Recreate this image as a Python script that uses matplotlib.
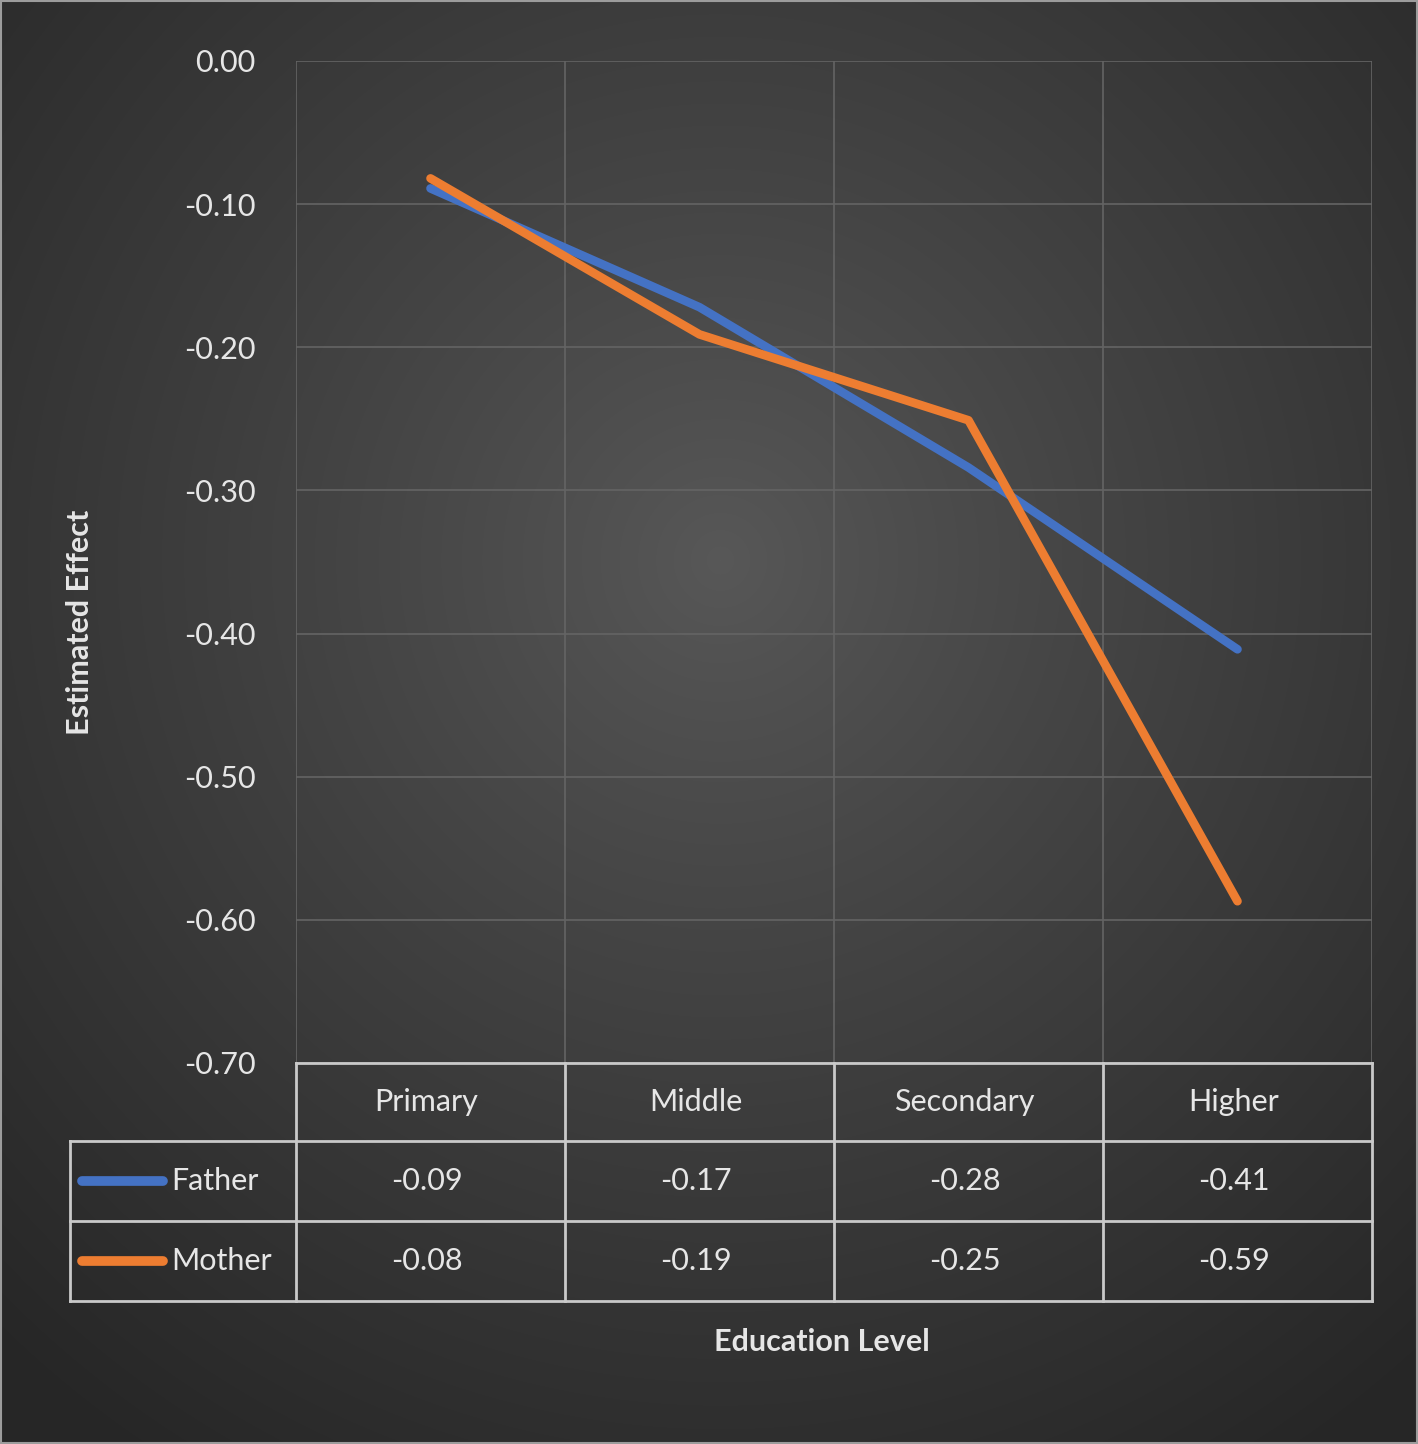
import numpy as np
import matplotlib
matplotlib.use("Agg")
import matplotlib.pyplot as plt
from matplotlib.transforms import blended_transform_factory, offset_copy
from matplotlib.lines import Line2D

categories = ["Primary", "Middle", "Secondary", "Higher"]
father = [-0.089, -0.172, -0.284, -0.411]
mother = [-0.082, -0.191, -0.251, -0.587]
series_names = ["Father", "Mother"]
yticks = [0.0, -0.1, -0.2, -0.3, -0.4, -0.5, -0.6, -0.7]

BLUE = "#4472c4"
ORANGE = "#ed7d31"
TXT = "#e6e6e6"
FONT = "Lato"

W, H = 1418, 1444
fig = plt.figure(figsize=(W / 100, H / 100), dpi=100)

# background radial gradient
bg = fig.add_axes([0, 0, 1, 1])
yy, xx = np.mgrid[0:H, 0:W]
cx, cy = 720, 560
r = np.sqrt(((xx - cx) / W) ** 2 + ((yy - cy) / H) ** 2)
r = np.clip(r / 0.75, 0, 1)
c_in, c_out = 0x58 / 255, 0x26 / 255
val = c_in + (c_out - c_in) * r ** 0.9
img = np.dstack([val, val, val])
bg.imshow(img, extent=[0, W, H, 0], aspect="auto", interpolation="bilinear")
bg.set_xlim(0, W)
bg.set_ylim(H, 0)
bg.axis("off")
bg.add_patch(plt.Rectangle((1, 1), W - 2, H - 2, fill=False, ec="#9c9c9c", lw=1.5))

# main axes: plot area x 296..1372, y 61..1063 (pixels from top)
L, R, T, B = 296, 1372, 61, 1063
ax = fig.add_axes([L / W, 1 - B / H, (R - L) / W, (B - T) / H])
ax.set_facecolor("none")
x = np.arange(len(categories))
ax.set_xlim(-0.5, len(categories) - 0.5)
ax.set_ylim(-0.7, 0.0)
fs = 22
ax.set_yticks(yticks)
ax.set_yticklabels([f"{v:.2f}" for v in yticks], fontsize=fs, color=TXT, fontfamily=FONT)
ax.tick_params(axis="y", length=0, pad=29)
ax.set_xticks([])
for s in ax.spines.values():
    s.set_visible(False)
grid_c = "#646464"
for v in yticks:
    ax.axhline(v, color=grid_c, lw=1.2, zorder=1)
for b in np.arange(-0.5, len(categories), 1.0):
    ax.axvline(b, color=grid_c, lw=1.2, zorder=1)

ax.plot(x, father, color=BLUE, lw=6.2, solid_capstyle="round", solid_joinstyle="round", zorder=3)
ax.plot(x, mother, color=ORANGE, lw=6.2, solid_capstyle="round", solid_joinstyle="round", zorder=4)

# data table
tr = blended_transform_factory(ax.transData, ax.transAxes)
tr_txt = offset_copy(tr, fig=fig, x=-4, y=0, units="dots")
def ya(py):
    return (B - py) / (B - T)
def xd(px):
    return (px - L) / ((R - L) / len(categories)) - 0.5

row_edges = [1063, 1141, 1221, 1301]
tcol = "#c9c9c9"
tlw = 2.0
left_x = xd(70)
ax.add_line(Line2D([-0.5, 3.5], [ya(1063)] * 2, transform=tr, color=tcol, lw=tlw, clip_on=False))
for py in row_edges[1:]:
    ax.add_line(Line2D([left_x, 3.5], [ya(py)] * 2, transform=tr, color=tcol, lw=tlw, clip_on=False))
for b in np.arange(-0.5, len(categories), 1.0):
    ax.add_line(Line2D([b, b], [ya(1063), ya(1301)], transform=tr, color=tcol, lw=tlw, clip_on=False))
ax.add_line(Line2D([left_x, left_x], [ya(1141), ya(1301)], transform=tr, color=tcol, lw=tlw, clip_on=False))

for i, c in enumerate(categories):
    ax.text(i, ya(1102), c, transform=tr_txt, ha="center", va="center", fontsize=fs,
            color=TXT, fontfamily=FONT, clip_on=False)
for j, (name, vals, col) in enumerate(zip(series_names, [father, mother], [BLUE, ORANGE])):
    yc = ya((row_edges[j + 1] + row_edges[j + 2]) / 2)
    for i, v in enumerate(vals):
        ax.text(i, yc, f"{v:.2f}", transform=tr_txt, ha="center", va="center", fontsize=fs,
                color=TXT, fontfamily=FONT, clip_on=False)
    ax.add_line(Line2D([xd(82), xd(163)], [yc, yc], transform=tr, color=col, lw=7,
                       solid_capstyle="round", clip_on=False))
    ax.text(xd(171), yc, name, transform=tr, ha="left", va="center", fontsize=fs,
            color=TXT, fontfamily=FONT, clip_on=False)

fig.text(80 / W, 1 - 622 / H, "Estimated Effect", rotation=90, ha="center", va="center",
         fontsize=22, fontweight="bold", color=TXT, fontfamily=FONT)
fig.text(822 / W, 1 - 1342 / H, "Education Level", ha="center", va="center",
         fontsize=22, fontweight="bold", color=TXT, fontfamily=FONT)

fig.savefig("out.png", dpi=100)
